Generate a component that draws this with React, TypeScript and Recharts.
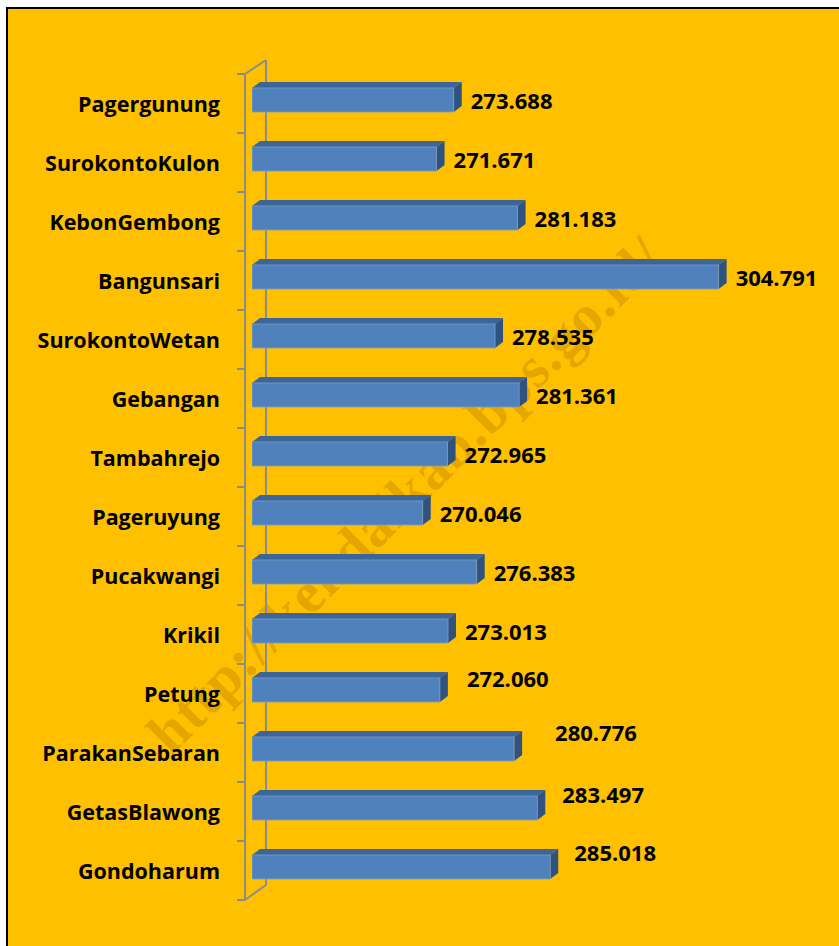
import React from "react"
import { Bar, BarChart, LabelList, XAxis, YAxis } from "recharts"

// Jumlah penduduk per desa (ribu jiwa, ditulis dengan titik sebagai pemisah ribuan)
const villages = [
  "Pagergunung",
  "SurokontoKulon",
  "KebonGembong",
  "Bangunsari",
  "SurokontoWetan",
  "Gebangan",
  "Tambahrejo",
  "Pageruyung",
  "Pucakwangi",
  "Krikil",
  "Petung",
  "ParakanSebaran",
  "GetasBlawong",
  "Gondoharum",
]

const values = [
  273688, 271671, 281183, 304791, 278535, 281361, 272965, 270046, 276383, 273013, 272060, 280776, 283497,
  285018,
]

const axisDomain = [250000, 310000]

// labels that were dragged by hand in the original
const labelNudge: Record<string, [number, number]> = {
  Petung: [10, -12],
  ParakanSebaran: [24, -17],
  GetasBlawong: [8, -14],
  Gondoharum: [7, -15],
}

const W = 839
const H = 946
const PLOT_LEFT = 252
const PLOT_TOP = 70
const PLOT_BOTTOM = 896
const DEPTH_X = 8
const DEPTH_Y = 6
const FONT = "'Open Sans', 'DejaVu Sans', sans-serif"

const data = villages.map((name, i) => ({ name, value: values[i] }))

function formatId(n: number) {
  return `${Math.floor(n / 1000)}.${String(n % 1000).padStart(3, "0")}`
}

function Bar3D(props: any) {
  const { x, y, width, height } = props
  if (x == null || y == null) return null
  const dx = DEPTH_X
  const dy = DEPTH_Y
  return (
    <g>
      <polygon
        points={`${x},${y} ${x + dx},${y - dy} ${x + width + dx},${y - dy} ${x + width},${y}`}
        fill="#3C659A"
      />
      <polygon
        points={`${x + width},${y} ${x + width + dx},${y - dy} ${x + width + dx},${y + height - dy} ${x + width},${y + height}`}
        fill="#30527F"
      />
      <rect x={x} y={y} width={width} height={height} fill="#4F81BD" stroke="#7F9CC0" strokeWidth={0.8} />
    </g>
  )
}

function ValueLabel(props: any) {
  const { x, y, width, height, value, index } = props
  const name = villages[index]
  const [nx, ny] = labelNudge[name] ?? [0, 0]
  return (
    <text
      x={x + width + DEPTH_X + 9 + nx}
      y={y + height / 2 + ny}
      dominantBaseline="central"
      fontFamily={FONT}
      fontWeight={700}
      fontSize={22}
      fill="#000"
    >
      {formatId(value)}
    </text>
  )
}

function VillageTick(props: any) {
  const { x, y, payload } = props
  return (
    <text
      x={x}
      y={y + 4}
      textAnchor="end"
      dominantBaseline="central"
      fontFamily={FONT}
      fontWeight={700}
      fontSize={21.5}
      fill="#000"
    >
      {payload.value}
    </text>
  )
}

function Backdrop() {
  // Excel-style 3D side wall + BPS watermark, behind the bars
  const front = PLOT_LEFT - 7
  const back = PLOT_LEFT + 14
  const top = PLOT_TOP + 4
  const band = (PLOT_BOTTOM - PLOT_TOP) / villages.length
  const bottom = top + band * villages.length
  const ticks = Array.from({ length: villages.length + 1 }, (_, k) => top + k * band)
  return (
    <svg width={W} height={H} style={{ position: "absolute", left: 0, top: 0 }}>
      <text
        x={405}
        y={495}
        transform="rotate(-45 405 495)"
        textAnchor="middle"
        dominantBaseline="central"
        fontFamily="'Liberation Serif', serif"
        fontWeight={700}
        fontSize={58}
        textLength={700}
        fill="#E3A700"
      >
        http://kendalkab.bps.go.id/
      </text>
      <g stroke="#8C8C8C" strokeWidth={2} fill="none">
        <line x1={front} y1={top} x2={front} y2={bottom} />
        <line x1={back} y1={top - 14} x2={back} y2={bottom - 15} />
        <line x1={front} y1={top} x2={back} y2={top - 14} />
        <line x1={front} y1={bottom} x2={back} y2={bottom - 15} />
        {ticks.map((t) => (
          <line key={t} x1={front - 8} y1={t} x2={front} y2={t} />
        ))}
      </g>
    </svg>
  )
}

export default function App() {
  return (
    <div style={{ position: "absolute", left: 0, top: 0, width: W, height: H, background: "#fff", overflow: "hidden" }}>
      <div
        style={{
          position: "absolute",
          left: 6,
          top: 7,
          width: W,
          height: H,
          background: "#FFC000",
          borderLeft: "2px solid #000",
          borderTop: "2px solid #000",
        }}
      />
      <Backdrop />
      <div style={{ position: "absolute", left: 0, top: 0 }}>
        <BarChart
          width={W}
          height={H}
          data={data}
          layout="vertical"
          margin={{ top: PLOT_TOP, right: 76, bottom: H - PLOT_BOTTOM, left: 0 }}
        >
          <XAxis type="number" domain={axisDomain} hide allowDataOverflow />
          <YAxis
            type="category"
            dataKey="name"
            width={PLOT_LEFT}
            axisLine={false}
            tickLine={false}
            tickSize={0}
            tickMargin={32}
            interval={0}
            tick={<VillageTick />}
          />
          <Bar dataKey="value" barSize={24} shape={<Bar3D />} isAnimationActive={false}>
            <LabelList dataKey="value" content={<ValueLabel />} />
          </Bar>
        </BarChart>
      </div>
    </div>
  )
}
